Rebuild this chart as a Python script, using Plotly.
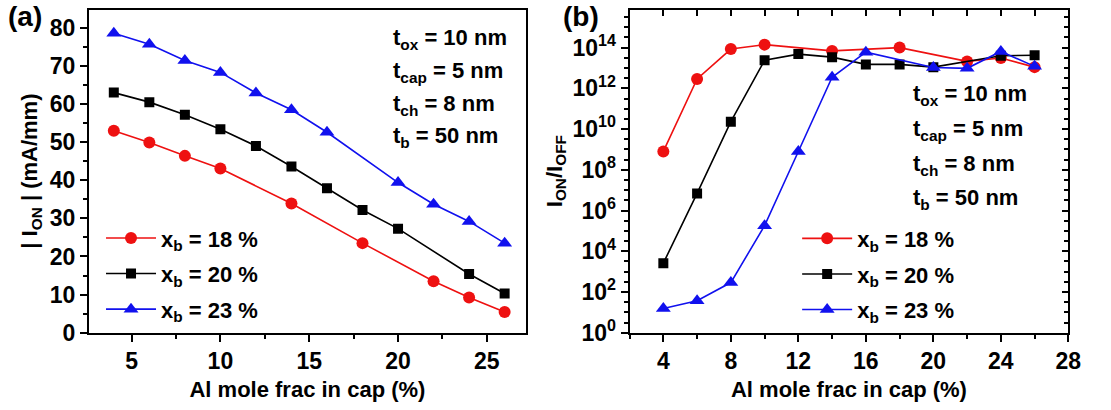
import plotly.graph_objects as go

# Al mole fraction in the cap layer (%) for each barrier composition
al_frac_18 = [4, 6, 8, 10, 14, 18, 22, 24, 26]
al_frac_20 = [4, 6, 8, 10, 12, 14, 16, 18, 20, 24, 26]
al_frac_23 = [4, 6, 8, 10, 12, 14, 16, 20, 22, 24, 26]

# |I_ON| (mA/mm)
ion_18 = [53.0, 49.9, 46.4, 43.1, 33.9, 23.5, 13.5, 9.25, 5.4]
ion_20 = [63.0, 60.5, 57.2, 53.4, 49.0, 43.6, 37.9, 32.2, 27.3, 15.4, 10.3]
ion_23 = [78.6, 75.7, 71.4, 68.3, 62.9, 58.5, 52.6, 39.4, 33.7, 29.2, 23.5]

# I_ON / I_OFF
ratio_18 = [8e8, 2.9e12, 8.5e13, 1.4e14, 6.9e13, 1.0e14, 2.1e13, 3.1e13, 1.1e13]
ratio_20 = [2.6e3, 6.9e6, 2.3e10, 2.4e13, 4.8e13, 3.4e13, 1.5e13, 1.5e13, 1.1e13, 4.0e13, 4.2e13]
ratio_23 = [15.5, 37, 290, 1.8e5, 7.9e8, 3.5e12, 6.0e13, 1.05e13, 9.6e12, 6.5e13, 1.2e13]

series_names = ["x<sub>b</sub> = 18 %", "x<sub>b</sub> = 20 %", "x<sub>b</sub> = 23 %"]
colors = ["#ee1111", "#000000", "#1111ee"]
symbols = ["circle", "square", "triangle-up"]
marker_sizes = [12, 10, 13]

thickness_notes = ["t<sub>ox</sub> = 10 nm", "t<sub>cap</sub> = 5 nm",
                   "t<sub>ch</sub> = 8 nm", "t<sub>b</sub> = 50 nm"]

log_major = list(range(0, 15, 2))
log_ticktext = [f"10<sup>{k}</sup>" for k in log_major]
log_minor = [10 ** (k / 2) for k in range(0, 33)]

FONT = "Liberation Sans, Arial, sans-serif"
fs = 23
fs_text = 22

fig = go.Figure()

panel_a = [(al_frac_18, ion_18), (al_frac_20, ion_20), (al_frac_23, ion_23)]
panel_b = [(al_frac_18, ratio_18), (al_frac_20, ratio_20), (al_frac_23, ratio_23)]

for i, (xs, ys) in enumerate(panel_a):
    fig.add_trace(go.Scatter(
        x=xs, y=ys, mode="lines+markers", name=series_names[i],
        line=dict(color=colors[i], width=1.6),
        marker=dict(color=colors[i], symbol=symbols[i], size=marker_sizes[i]),
        xaxis="x", yaxis="y", legend="legend", legendgroup=f"a{i}",
    ))

for i, (xs, ys) in enumerate(panel_b):
    fig.add_trace(go.Scatter(
        x=xs, y=ys, mode="lines+markers", name=series_names[i],
        line=dict(color=colors[i], width=1.6),
        marker=dict(color=colors[i], symbol=symbols[i], size=marker_sizes[i]),
        xaxis="x2", yaxis="y2", legend="legend2", legendgroup=f"b{i}",
    ))

# empty traces that activate the inward-tick top/right axes of panel (b)
fig.add_trace(go.Scatter(x=[], y=[], xaxis="x3", yaxis="y2", showlegend=False, hoverinfo="skip"))
fig.add_trace(go.Scatter(x=[], y=[], xaxis="x2", yaxis="y3", showlegend=False, hoverinfo="skip"))

tickfont = dict(family=FONT, size=fs, color="black", weight="bold")
titlefont = dict(family=FONT, size=fs_text, color="black", weight="bold")
textfont = dict(family=FONT, size=fs_text, color="black", weight="bold")

common = dict(showline=True, linewidth=2, linecolor="black", showgrid=False,
              zeroline=False, ticks="outside", ticklen=7, tickwidth=2,
              tickcolor="black", tickfont=tickfont)

ydom = [0.162, 0.976]

fig.update_layout(
    width=1111, height=410,
    margin=dict(l=0, r=0, t=0, b=0),
    paper_bgcolor="white", plot_bgcolor="white",
    font=dict(family=FONT, size=fs_text, color="black"),
    xaxis=dict(domain=[0.081, 0.479], range=[2.6, 27.2], tick0=0, dtick=5,
               minor=dict(dtick=2.5, ticks="outside", ticklen=4, tickwidth=2, tickcolor="black"),
               mirror=True, anchor="y",
               title=dict(text="Al mole frac in cap (%)", font=titlefont, standoff=8),
               **common),
    yaxis=dict(domain=ydom, range=[0, 84.8], tick0=0, dtick=10,
               minor=dict(dtick=5, ticks="outside", ticklen=4, tickwidth=2, tickcolor="black"),
               mirror=True, anchor="x",
               title=dict(text="| I<sub>ON</sub> | (mA/mm)", font=titlefont, standoff=6),
               **common),
    xaxis2=dict(domain=[0.5734, 0.973], range=[2, 28], tick0=0, dtick=4,
                minor=dict(dtick=2, ticks="outside", ticklen=4, tickwidth=2, tickcolor="black"),
                mirror=True, anchor="y2",
                title=dict(text="Al mole frac in cap (%)", font=titlefont, standoff=8),
                **common),
    yaxis2=dict(domain=ydom, type="log", range=[0, 15.87],
                tickmode="array", tickvals=[10 ** k for k in log_major], ticktext=log_ticktext,
                minor=dict(tickmode="array", tickvals=log_minor, ticks="outside",
                           ticklen=4, tickwidth=2, tickcolor="black"),
                mirror=True, anchor="x2",
                title=dict(text="I<sub>ON</sub>/I<sub>OFF</sub>", font=titlefont, standoff=4),
                **common),
    xaxis3=dict(overlaying="x2", side="top", anchor="y2", range=[2, 28], tick0=0, dtick=2,
                showticklabels=False, ticks="inside", ticklen=6, tickwidth=2, tickcolor="black",
                showgrid=False, zeroline=False, showline=False),
    yaxis3=dict(overlaying="y2", side="right", anchor="x2", type="log", range=[0, 15.87],
                tickmode="array", tickvals=[10 ** k for k in log_major], showticklabels=False,
                ticks="inside", ticklen=6, tickwidth=2, tickcolor="black",
                minor=dict(tickmode="array", tickvals=log_minor, ticks="inside",
                           ticklen=4, tickwidth=2, tickcolor="black"),
                showgrid=False, zeroline=False, showline=False),
    legend=dict(x=0.092, y=0.453, xanchor="left", yanchor="top",
                bgcolor="rgba(0,0,0,0)", font=textfont,
                tracegroupgap=4, itemwidth=50, traceorder="grouped"),
    legend2=dict(x=0.726, y=0.452, xanchor="left", yanchor="top",
                 bgcolor="rgba(0,0,0,0)", font=textfont,
                 tracegroupgap=4, itemwidth=50, traceorder="grouped"),
    showlegend=True,
)

# thickness annotations
note_a_y = [40, 74, 108, 142]
note_b_y = [98, 134, 170, 205]
for txt, yp in zip(thickness_notes, note_a_y):
    fig.add_annotation(text=txt, x=396 / 1111, y=1 - yp / 410, xref="paper", yref="paper",
                       xanchor="left", yanchor="middle", showarrow=False, font=textfont)
for txt, yp in zip(thickness_notes, note_b_y):
    fig.add_annotation(text=txt, x=922 / 1111, y=1 - yp / 410, xref="paper", yref="paper",
                       xanchor="left", yanchor="middle", showarrow=False, font=textfont)

# panel labels
for lbl, xp in [("(a)", 25), ("(b)", 588)]:
    fig.add_annotation(text=lbl, x=xp / 1111, y=1 - 17 / 410, xref="paper", yref="paper",
                       xanchor="center", yanchor="middle", showarrow=False,
                       font=dict(family=FONT, size=28, color="black", weight="bold"))

fig.write_html("out.html")
